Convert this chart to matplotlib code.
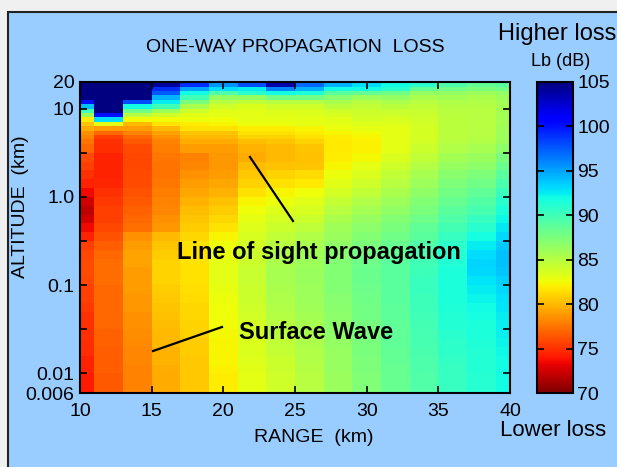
import numpy as np
import matplotlib
matplotlib.use("Agg")
import matplotlib.pyplot as plt
from matplotlib.patches import Rectangle
from matplotlib.ticker import NullLocator

plt.rcParams['font.family'] = ['Liberation Sans', 'DejaVu Sans']

# range columns (km) and their cell edges
range_km = [10, 12, 14, 16, 18, 20, 22, 24, 26, 28, 30, 32, 34, 36, 38, 40]
range_edges = [10, 11, 13, 15, 17, 19, 21, 23, 25, 27, 29, 31, 33, 35, 37, 39, 40]

# altitude cell edges, log10(km), top to bottom
alt_edges_log = [1.30, 1.25, 1.20, 1.15, 1.10, 1.05, 1.00, 0.95, 0.90, 0.85,
                 0.80, 0.75, 0.70, 0.65, 0.60, 0.5, 0.4, 0.3, 0.2, 0.1, 0.0,
                 -0.1, -0.2, -0.3, -0.4, -0.5, -0.6, -0.7, -0.8, -0.9, -1.0,
                 -1.1, -1.2, -1.3, -1.4, -1.5, -1.6, -1.7, -1.8, -1.9, -2.0,
                 -2.1, -2.222]

# propagation loss Lb (dB), rows top to bottom, one value per range column
loss_db = [
    [105, 105, 105, 104, 99, 95.5, 98, 103.5, 97, 94.5, 93, 92, 91, 89.5, 88.5, 89],
    [105, 105, 105, 99, 95, 93, 92.5, 96, 94.5, 92, 92, 91, 88.5, 88, 87.5, 88],
    [105, 105, 105, 97.5, 92, 89.5, 91, 92, 91.5, 89, 88.5, 88, 86.5, 86.5, 86, 86.5],
    [105, 105, 105, 94.5, 90, 86.5, 86.5, 88, 88, 87, 86, 86.5, 85.5, 85.8, 85.5, 86],
    [100, 105, 98, 92.5, 87.5, 85, 84.5, 85, 85, 85.5, 85, 85.5, 85, 85.4, 85.2, 85.8],
    [94, 105, 92, 90, 85.5, 84, 83.5, 84, 84, 84.8, 84.5, 84.8, 84.6, 85.1, 85.1, 85.8],
    [90, 105, 88, 86, 84, 83.2, 83.2, 83.5, 83.5, 84, 84.2, 84.3, 84.3, 85, 85, 85.8],
    [86, 100, 85, 84, 83.2, 83, 83, 83.2, 83.3, 83.5, 84, 84, 84.1, 84.9, 85, 85.8],
    [82, 93, 82.5, 82.5, 82.8, 82.7, 83, 83, 83.1, 83.2, 83.8, 83.6, 84, 84.8, 85, 85.8],
    [80.5, 83, 80, 81.5, 82, 82.2, 82.8, 82.8, 83, 83, 83.3, 83.3, 83.9, 84.8, 85, 85.8],
    [79.5, 79, 79, 80, 81.5, 81.6, 82, 82, 82.3, 82.8, 83, 83.1, 83.8, 84.8, 85, 85.9],
    [78.5, 77, 78, 79.2, 80.5, 80.5, 81.5, 81.5, 82, 82.3, 82.5, 83, 83.8, 84.8, 85, 86],
    [78, 75.5, 77, 78.5, 80, 80, 81, 81, 81.6, 82, 82.2, 83, 83.8, 84.9, 85.1, 86],
    [77.5, 75, 76.5, 78, 79.5, 79.5, 80.2, 80.5, 81, 81.8, 82.1, 83, 83.9, 85, 85.2, 86.2],
    [77, 74.8, 76, 77.8, 79, 79, 79.8, 80, 80.5, 81.8, 82.1, 83.1, 84.2, 85.3, 85.6, 86.8],
    [76, 74.5, 75.8, 77.6, 78, 78.8, 79.5, 80, 80.3, 81.9, 82.4, 83.5, 84.6, 85.8, 86.2, 87.5],
    [75.5, 74.4, 75.8, 77.5, 78.2, 78.8, 80.2, 80.3, 80.5, 82.2, 83, 84, 85.1, 86.3, 86.8, 88.2],
    [75, 74.4, 76, 77.5, 78.6, 79, 80.6, 81, 81.3, 82.8, 83.5, 84.5, 85.6, 86.9, 87.4, 88.9],
    [74.5, 74.6, 76, 77.6, 79, 79.3, 81, 81.6, 81.8, 83.2, 84, 85, 86.1, 87.4, 88, 89.6],
    [73.5, 75, 76.2, 77.8, 79.4, 79.8, 81.6, 82.2, 82.6, 83.8, 84.6, 85.5, 86.6, 87.9, 88.6, 90.3],
    [72.5, 75.3, 76.5, 78, 79.8, 80.3, 82.2, 82.8, 83.2, 84.4, 85.2, 86, 87.1, 88.4, 89.2, 91],
    [72, 75.5, 76.8, 78.2, 80.2, 80.8, 82.6, 83.3, 83.6, 85, 85.8, 86.6, 87.6, 88.9, 89.8, 91.6],
    [72.5, 75.6, 77, 78.5, 80.5, 81.2, 83, 83.7, 84.2, 85.5, 86.3, 87.1, 88.1, 89.4, 90.4, 92.1],
    [73.5, 75.8, 77.3, 78.8, 80.8, 81.6, 83.3, 84.2, 84.7, 85.9, 86.8, 87.6, 88.6, 89.9, 91, 92.6],
    [74.5, 76.2, 78.5, 80, 81.2, 82.3, 83.6, 84.6, 85.2, 86.2, 87.2, 88, 89, 90.4, 91.8, 93.2],
    [75.5, 76.6, 79, 80.5, 81.5, 82.6, 83.9, 85, 85.6, 86.6, 87.6, 88.4, 89.4, 90.8, 92.5, 93.7],
    [75.8, 77, 79.2, 80.8, 81.5, 82.8, 84.1, 85.3, 85.9, 86.9, 87.9, 88.7, 89.7, 91.1, 93, 94],
    [76, 77.2, 79.2, 81, 81.6, 83, 84.2, 85.5, 86.1, 87.1, 88.1, 88.9, 90, 91.3, 93.3, 94],
    [76, 77.2, 79, 81, 81.6, 83, 84.3, 85.6, 86.2, 87.2, 88.2, 89, 90.2, 91.5, 93.2, 93.8],
    [75.8, 77.2, 79, 81, 81.5, 83, 84.3, 85.6, 86.2, 87.2, 88.2, 89, 90.3, 91.6, 92.8, 93.5],
    [75.5, 77, 79, 80.8, 81.4, 82.9, 84.2, 85.5, 86.1, 87.1, 88.1, 89, 90.3, 91.6, 92.5, 93.2],
    [75.5, 77, 78.8, 80.6, 81.3, 82.8, 84.1, 85.4, 86, 87, 88, 88.9, 90.2, 91.5, 92.2, 92.9],
    [75.2, 77, 78.8, 80.5, 81.2, 82.7, 84, 85.3, 85.9, 86.9, 87.9, 88.8, 90.1, 91.4, 92, 92.7],
    [75, 77, 78.6, 80.3, 81.2, 82.6, 83.9, 85.1, 85.8, 86.8, 87.8, 88.8, 90, 91.3, 91.8, 92.5],
    [75, 77, 78.5, 80.2, 81, 82.5, 83.8, 85, 85.6, 86.7, 87.7, 88.7, 89.9, 91.2, 91.6, 92.4],
    [75, 76.8, 78.4, 80, 81, 82.4, 83.7, 84.8, 85.5, 86.6, 87.6, 88.6, 89.8, 91, 91.5, 92.3],
    [74.8, 76.8, 78.3, 80, 80.8, 82.3, 83.5, 84.6, 85.4, 86.5, 87.5, 88.6, 89.7, 90.9, 91.4, 92.2],
    [74.8, 76.6, 78.2, 79.8, 80.8, 82.2, 83.4, 84.4, 85.3, 86.4, 87.5, 88.5, 89.6, 90.8, 91.3, 92.1],
    [74.5, 76.6, 78.2, 79.8, 80.6, 82.2, 83.3, 84.2, 85.2, 86.3, 87.4, 88.5, 89.5, 90.6, 91.2, 92],
    [74.5, 76.6, 78, 79.6, 80.6, 82.1, 83.2, 84.1, 85.1, 86.3, 87.4, 88.4, 89.5, 90.5, 91.2, 92],
    [74.2, 76.5, 78, 79.5, 80.6, 82, 83.1, 84, 85, 86.2, 87.3, 88.4, 89.4, 90.4, 91.1, 92],
    [74.2, 76.5, 78, 79.5, 80.6, 82, 83.1, 84, 85, 86.2, 87.3, 88.4, 89.4, 90.4, 91.1, 92],
]

alt_ticks = [0.006, 0.01, 10 ** -1.5, 0.1, 10 ** -0.5, 1, 10 ** 0.5, 10, 20]
alt_labels = ['0.006', '0.01', '', '0.1', '', '1.0', '', '10', '20']
cbar_ticks = [70, 75, 80, 85, 90, 95, 100, 105]

W, H = 617, 467


def fx(x):
    return x / W


def fy(y):
    return 1 - y / H


fig = plt.figure(figsize=(W / 100, H / 100), dpi=100)
fig.patch.set_facecolor('#f0f0f0')

# light blue slide panel with dark border
panel = Rectangle((fx(8), -0.01), 1.0, fy(12) + 0.01, transform=fig.transFigure,
                  facecolor='#99ccff', edgecolor='#222222', lw=1.5, zorder=-10)
fig.add_artist(panel)

ax = fig.add_axes([fx(80), fy(393), (510 - 80) / W, (393 - 82) / H])
ax.set_yscale('log')
mesh = ax.pcolormesh(range_edges, 10 ** np.array(alt_edges_log), np.array(loss_db),
                     cmap='jet_r', vmin=70, vmax=105, shading='flat')
ax.set_xlim(10, 40)
ax.set_ylim(0.006, 20)
ax.set_xticks(range(10, 41, 5))
ax.set_yticks(alt_ticks)
ax.set_yticklabels(alt_labels)
ax.yaxis.set_minor_locator(NullLocator())
ax.tick_params(direction='in', length=5, width=1.2, top=True, right=True,
               labelsize=14, pad=4)
ax.tick_params(axis='x', pad=7)
for s in ax.spines.values():
    s.set_linewidth(1.5)

# annotations
ax.text(0.556, 0.453, 'Line of sight propagation', transform=ax.transAxes,
        ha='center', va='center', fontsize=17, fontweight='bold')
ax.text(0.55, 0.193, 'Surface Wave', transform=ax.transAxes,
        ha='center', va='center', fontsize=17, fontweight='bold')
ax.plot([0.3953, 0.4953], [0.7588, 0.5531], transform=ax.transAxes, color='black', lw=1.6)
ax.plot([0.1698, 0.3302], [0.1350, 0.2122], transform=ax.transAxes, color='black', lw=1.6)

# colorbar
cax = fig.add_axes([fx(537), fy(393), 36 / W, 311 / H])
cb = fig.colorbar(mesh, cax=cax, ticks=cbar_ticks)
cax.tick_params(direction='in', left=True, right=True, length=5, width=1.2,
                labelsize=14, pad=3)
cb.outline.set_linewidth(1.5)

fig.text(fx(295), fy(47), 'ONE-WAY PROPAGATION  LOSS', ha='center', va='center', fontsize=14)
fig.text(fx(557), fy(34), 'Higher loss', ha='center', va='center', fontsize=17)
fig.text(fx(561), fy(62), 'Lb (dB)', ha='center', va='center', fontsize=13)
fig.text(fx(553), fy(431), 'Lower loss', ha='center', va='center', fontsize=16)
fig.text(fx(314), fy(437), 'RANGE  (km)', ha='center', va='center', fontsize=14)
fig.text(fx(21), fy(207), 'ALTITUDE  (km)', ha='center', va='center', fontsize=14, rotation=90)

fig.savefig('out.png', dpi=100, facecolor=fig.get_facecolor())
